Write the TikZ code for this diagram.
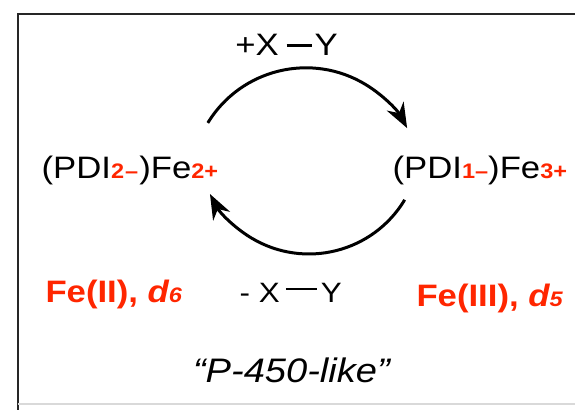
\documentclass[tikz,border=0pt]{standalone}
\usepackage{fontspec}
\setmainfont{Liberation Sans}
\usepackage{graphicx}
\usetikzlibrary{arrows.meta}
\definecolor{fered}{RGB}{255,38,0}
\newcommand{\bigtxt}{\fontsize{31}{31}\selectfont}
\newcommand{\midtxt}{\fontsize{28}{28}\selectfont}
\newcommand{\suptxt}{\fontsize{21}{21}\selectfont\bfseries\color{fered}}
\newcommand{\sx}[1]{\scalebox{1.12}[1]{#1}}
\begin{document}
\begin{tikzpicture}[x=1pt,y=1pt,
  lbl/.style={anchor=base west,inner sep=0pt,outer sep=0pt},
  cyc/.style={line width=3pt,-{Stealth[length=25pt,width=19pt,inset=8pt]}},
  frame/.style={line width=2pt,draw=black!85}]
\useasboundingbox (0,0) rectangle (575,410);
\fill[white] (0,0) rectangle (575,410);
% frame
\coordinate (ftl) at (17.5,396);
\coordinate (ftr) at (575,396);
\coordinate (fbl) at (17.5,0);
\draw[frame] (ftr) -- (ftl) -- (fbl);
\coordinate (fb1) at (17.5,6);
\coordinate (fb2) at (575,6);
\draw[line width=1.5pt,draw=black!15] (fb1) -- (fb2);
% species
\node[lbl] (fe2) at (41.6,231) {\bigtxt\sx{(PDI}{\suptxt\sx{2\kern1pt–}}\kern1pt\sx{)Fe}{\suptxt\sx{2+}}};
\node[lbl] (fe3) at (392.6,231) {\bigtxt\sx{(PDI}{\suptxt\sx{1–}}\sx{)Fe}{\suptxt\sx{3+}}};
% reagents
\node[lbl] (add) at (235.3,354) {\bigtxt\sx{+X}\hspace{8pt}\rule[9pt]{25pt}{2.5pt}\hspace{3pt}\sx{Y}};
\node[lbl] (rem) at (239.7,108) {\midtxt\sx{- X}\hspace{6pt}\rule[12pt]{31pt}{2.2pt}\hspace{4pt}\sx{Y}};
% oxidation states
\node[lbl,text=fered] (ox2) at (45.5,108) {\bigtxt\bfseries\sx{Fe(II), \itshape d}{\suptxt\itshape\sx{6}}};
\node[lbl,text=fered] (ox3) at (416.5,104) {\bigtxt\bfseries\sx{Fe(III), \itshape d}{\suptxt\itshape\sx{5}}};
% caption
\node[lbl] (cap) at (193,28) {\fontsize{34}{34}\selectfont\itshape\sx{“P-450-like”}};
% cycle arrows
\coordinate (t1) at (207.8,287.1);
\draw[cyc] (t1) arc[start angle=148.6,end angle=28.4,radius=115];
\coordinate (b1) at (404.7,210.2);
\draw[cyc] (b1) arc[start angle=-31,end angle=-152.4,radius=111.7];
\end{tikzpicture}
\end{document}
